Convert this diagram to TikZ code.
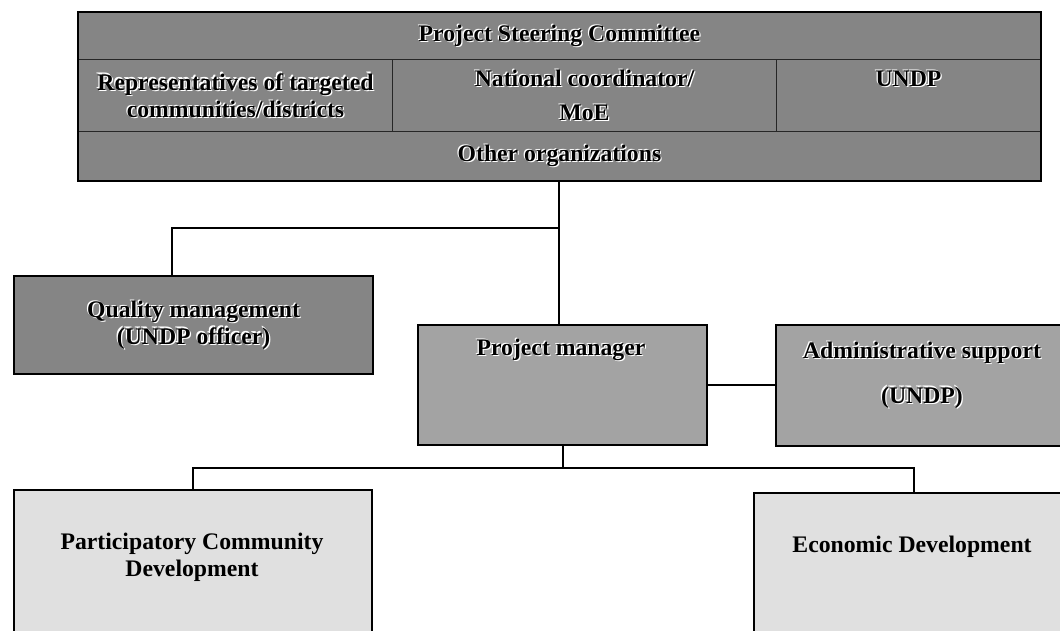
\documentclass[tikz,border=0pt]{standalone}
\usepackage{fontspec}
\setmainfont{Liberation Serif}
\usetikzlibrary{positioning}

\definecolor{steergrey}{gray}{0.52}
\definecolor{mgrgrey}{gray}{0.64}
\definecolor{unitgrey}{gray}{0.88}

\newcommand{\halo}[1]{\leavevmode\rlap{\color{white}\hspace{0.7pt}\raisebox{-0.7pt}{#1}}\rlap{\color{white}\hspace{-0.7pt}\raisebox{0.7pt}{#1}}#1}

\begin{document}
\begin{tikzpicture}[x=0.02cm,y=-0.02cm,
  cell/.style={draw=black!85,line width=0.6pt,fill=steergrey,anchor=north west,inner sep=0pt,align=center,
    font=\fontsize{13.5}{15.5}\selectfont\bfseries},
  main box/.style={draw,line width=1.3pt,anchor=north west,inner sep=0pt},
  box text/.style={inner sep=0pt,align=center,font=\fontsize{13.5}{15.5}\selectfont\bfseries},
  link/.style={line width=1.2pt}]

  \useasboundingbox (0,0) rectangle (1060,631);

  % steering committee
  \node[cell,minimum width=19.24cm,minimum height=0.94cm] (psc) at (78,12) {\halo{Project Steering Committee}};
  \node[cell,minimum width=6.28cm,minimum height=1.44cm] (reps) at (78,59)
    {\halo{Representatives of targeted}\\\halo{communities/districts}};
  \node[cell,minimum width=7.68cm,minimum height=1.44cm] (natl) at (392,59)
    {\halo{National coordinator/}\\[4pt]\halo{MoE}};
  \node[cell,minimum width=5.28cm,minimum height=1.44cm] (undp) at (776,59)
    {\halo{UNDP}\\[4pt]\mbox{}};
  \node[cell,minimum width=19.24cm,minimum height=0.98cm] (other) at (78,131) {\halo{Other organizations}};
  \draw[line width=1.5pt] (psc.north west) rectangle (other.south east);

  % boxes
  \node[main box,fill=steergrey,minimum width=7.18cm,minimum height=1.96cm,align=center,
    font=\fontsize{13.5}{15}\selectfont\bfseries] (qm) at (13,275)
    {\halo{Quality management}\\\halo{(UNDP officer)}};
  \node[main box,fill=mgrgrey,minimum width=5.78cm,minimum height=2.4cm] (pm) at (417,324) {};
  \node[main box,fill=mgrgrey,minimum width=5.92cm,minimum height=2.42cm] (admin) at (775,324) {};
  \node[main box,fill=unitgrey,minimum width=7.16cm,minimum height=3.2cm] (pcd) at (13,489) {};
  \node[main box,fill=unitgrey,minimum width=6.38cm,minimum height=3.2cm] (ed) at (753,492) {};

  \node[box text] (pmtxt) at (561,350) {\halo{Project manager}};
  \node[box text] (admintxt) at (922,375) {\halo{Administrative support}\\[10pt]\halo{(UNDP)}};
  \node[box text] (pcdtxt) at (192,557) {Participatory Community\\Development};
  \node[box text] (edtxt) at (912,547) {Economic Development};

  % links
  \coordinate (qmin) at (172,275);
  \draw[link] (other.south) -- (other.south |- pm.north);
  \draw[link] (other.south) ++(0,47) -| (qmin);
  \draw[link] (pm.east) -- (pm.east -| admin.west);
  \draw[link] (pm.south) -- ++(0,22) coordinate (fork);
  \draw[link] (fork) -| (pcd.north);
  \draw[link] (fork) -| (ed.north);
\end{tikzpicture}
\end{document}
